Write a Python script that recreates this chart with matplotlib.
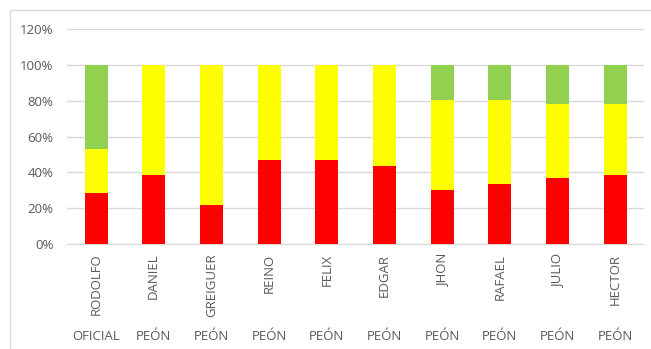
import numpy as np
import matplotlib
matplotlib.use("Agg")
import matplotlib.pyplot as plt
from matplotlib.patches import Rectangle
from matplotlib.ticker import PercentFormatter

plt.rcParams["font.family"] = ["Open Sans", "DejaVu Sans"]

names = ["RODOLFO", "DANIEL", "GREIGUER", "REINO", "FELIX", "EDGAR", "JHON", "RAFAEL", "JULIO", "HECTOR"]
roles = ["OFICIAL", "PEÓN", "PEÓN", "PEÓN", "PEÓN", "PEÓN", "PEÓN", "PEÓN", "PEÓN", "PEÓN"]
rojo = [28.3, 38.4, 21.6, 46.7, 46.7, 43.6, 30.0, 33.5, 36.7, 38.4]
amarillo = [24.9, 61.6, 78.4, 53.3, 53.3, 56.4, 50.3, 46.8, 41.7, 40.0]
verde = [46.8, 0.0, 0.0, 0.0, 0.0, 0.0, 19.7, 19.7, 21.6, 21.6]

TXT = "#595959"; GRID = "#D9D9D9"
W, H = 651, 349
fig = plt.figure(figsize=(W / 100, H / 100), dpi=100)
ax = fig.add_axes([67.2 / W, (H - 244) / H, (644 - 67.2) / W, (244 - 29) / H])

x = np.arange(len(names))
r = np.array(rojo); a = np.array(amarillo); v = np.array(verde)
ax.bar(x, r, 0.4, color="#FF0000", zorder=3)
ax.bar(x, a, 0.4, bottom=r, color="#FFFF00", zorder=3)
ax.bar(x, v, 0.4, bottom=r + a, color="#92D050", zorder=3)

ax.set_xlim(-0.5, len(names) - 0.5)
ax.set_ylim(0, 120)
ax.set_yticks(np.arange(0, 121, 20))
ax.yaxis.set_major_formatter(PercentFormatter(decimals=0))
ax.grid(axis="y", color=GRID, lw=1, zorder=0)
for sp in ("top", "right", "left"):
    ax.spines[sp].set_visible(False)
ax.spines["bottom"].set_color(GRID)
ax.tick_params(length=0, labelsize=9.5, colors=TXT)
ax.tick_params(axis="y", pad=10)
ax.set_xticks(x)
ax.set_xticklabels(names, rotation=90, fontsize=9.5, color=TXT)
ax.tick_params(axis="x", pad=7)

for xi, rl in zip(x, roles):
    ax.text(xi, -(337 - 244) / (244 - 29) * 120, rl, ha="center", va="center",
            fontsize=9.5, color=TXT, clip_on=False)

fig.patches.append(Rectangle((10 / W, -0.1), 1.2, (H - 10) / H + 0.1, transform=fig.transFigure,
                             fill=False, edgecolor=GRID, lw=1))

fig.savefig("out.png", dpi=100, facecolor="white")
